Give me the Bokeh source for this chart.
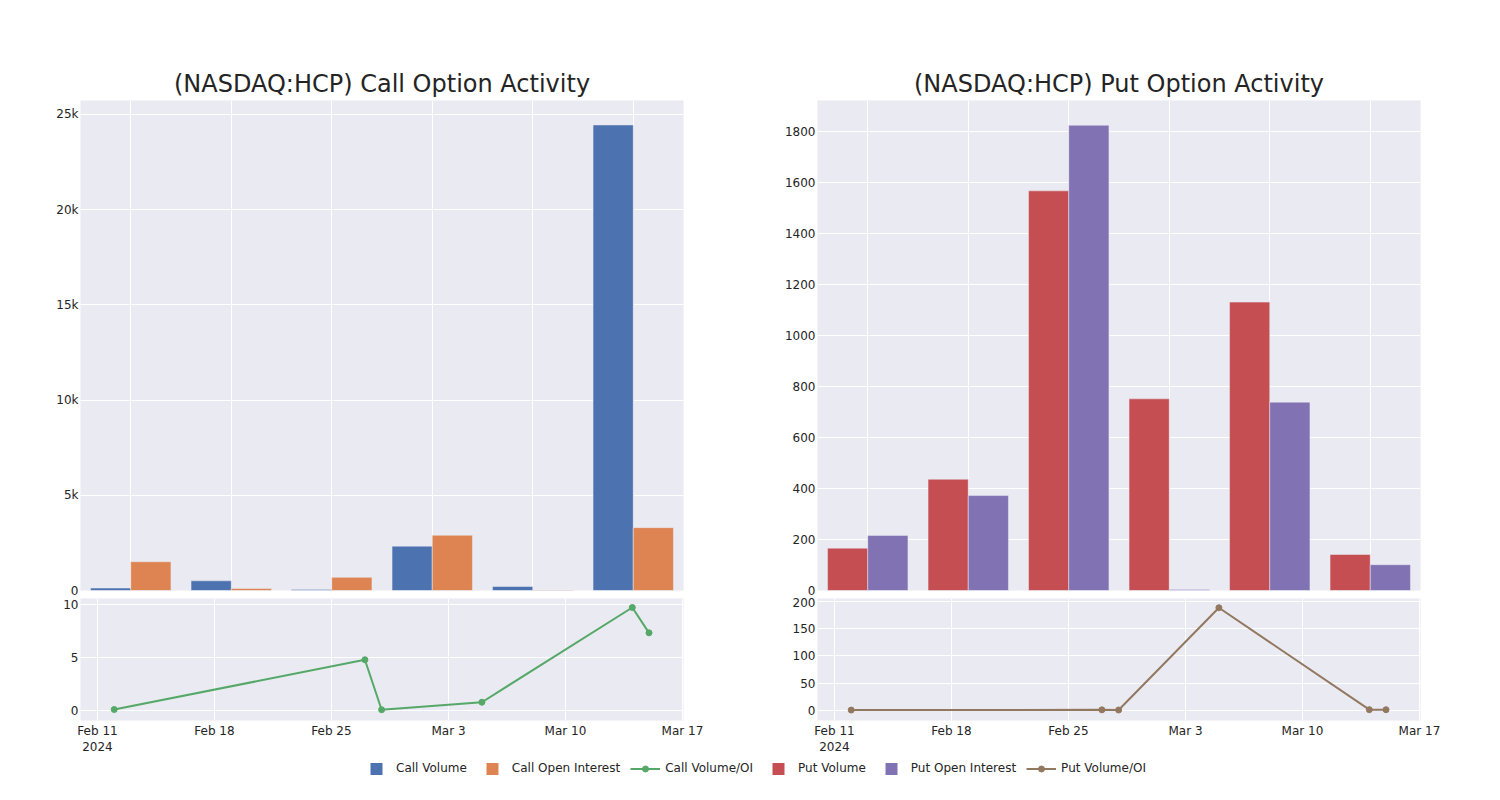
from datetime import datetime, timedelta

from bokeh.plotting import figure
from bokeh.models import (ColumnDataSource, FactorRange, Range1d, FixedTicker,
                          NumeralTickFormatter, CustomJSTickFormatter, Legend, LegendItem)
from bokeh.transform import dodge
from bokeh.layouts import column, row
from bokeh.embed import file_html
from bokeh.resources import INLINE

# ---------------- data ----------------
dates = ["2024-02-12", "2024-02-27", "2024-02-28", "2024-03-05", "2024-03-14", "2024-03-15"]

call_volume = [130, 510, 50, 2330, 210, 24450]
call_open_interest = [1510, 105, 690, 2900, 22, 3300]
call_vol_oi = [0.09, 4.8, 0.07, 0.78, 9.75, 7.35]

put_volume = [166, 436, 1566, 751, 1130, 141]
put_open_interest = [216, 372, 1823, 4, 738, 101]
put_vol_oi = [0.77, 1.17, 0.86, 188, 1.53, 1.40]

call_bar_ticks = [0, 5000, 10000, 15000, 20000, 25000]
put_bar_ticks = [0, 200, 400, 600, 800, 1000, 1200, 1400, 1600, 1800]
call_ratio_ticks = [0, 5, 10]
put_ratio_ticks = [0, 50, 100, 150, 200]
date_ticks = ["2024-02-11", "2024-02-18", "2024-02-25", "2024-03-03", "2024-03-10", "2024-03-17"]

titles = ["(NASDAQ:HCP) Call Option Activity", "(NASDAQ:HCP) Put Option Activity"]
legend_labels = ["Call Volume", "Call Open Interest", "Call Volume/OI",
                 "Put Volume", "Put Open Interest", "Put Volume/OI"]

# ---------------- style ----------------
FONT = "DejaVu Sans"
TXT = "#242424"
BG = "#EAEAF2"
C_BLUE, C_ORANGE, C_GREEN = "#4C72B0", "#DD8452", "#55A868"
C_RED, C_PURPLE, C_BROWN = "#C44E52", "#8172B3", "#937860"

FRAME_W = 603
BL, BR = 80, 54

EPOCH = datetime(1970, 1, 1)


def to_dt(s):
    return datetime.strptime(s, "%Y-%m-%d")


def to_ms(d):
    return (d - EPOCH).total_seconds() * 1000.0


x_start = to_dt(date_ticks[0]) - timedelta(days=1.017)
x_end = x_start + timedelta(days=36.08)


def style(p):
    p.background_fill_color = BG
    p.border_fill_color = "white"
    p.outline_line_color = None
    for ax in p.xaxis + p.yaxis:
        ax.axis_line_color = None
        ax.major_tick_line_color = None
        ax.minor_tick_line_color = None
        ax.major_tick_out = 0
        ax.major_tick_in = 0
        ax.major_label_text_font = FONT
        ax.major_label_text_font_size = "12px"
        ax.major_label_text_color = TXT
    p.yaxis.major_label_standoff = 2
    p.xaxis.major_label_standoff = 3
    for g in p.xgrid + p.ygrid:
        g.grid_line_color = "white"
        g.grid_line_width = 1


def bar_fig(title, vol, oi, c1, c2, ymax, ticks, fmt):
    src = ColumnDataSource(dict(date=dates, vol=vol, oi=oi))
    p = figure(x_range=FactorRange(*dates), y_range=Range1d(0, ymax),
               frame_width=FRAME_W, frame_height=490,
               min_border_left=BL, min_border_right=BR,
               min_border_top=100, min_border_bottom=7,
               output_backend="svg", toolbar_location=None, title=title)
    p.vbar(x=dodge("date", -0.2, range=p.x_range), top="vol", width=0.4, source=src,
           fill_color=c1, line_color=BG, line_width=0.5)
    p.vbar(x=dodge("date", 0.2, range=p.x_range), top="oi", width=0.4, source=src,
           fill_color=c2, line_color=BG, line_width=0.5)
    style(p)
    p.xaxis.visible = False
    p.yaxis.ticker = FixedTicker(ticks=ticks)
    if fmt:
        p.yaxis.formatter = NumeralTickFormatter(format=fmt)
    p.title.text_font = FONT
    p.title.text_font_size = "24px"
    p.title.text_font_style = "normal"
    p.title.text_color = TXT
    p.title.align = "center"
    p.title.standoff = 6
    return p


def line_fig(ratio, color, ylo, yhi, ticks):
    src = ColumnDataSource(dict(d=[to_dt(s) for s in dates], r=ratio))
    p = figure(x_axis_type="datetime", x_range=Range1d(x_start, x_end),
               y_range=Range1d(ylo, yhi),
               frame_width=FRAME_W, frame_height=122,
               min_border_left=BL, min_border_right=BR,
               min_border_top=1, min_border_bottom=36,
               output_backend="svg", toolbar_location=None, title=None)
    p.line(x="d", y="r", source=src, line_color=color, line_width=2)
    p.scatter(x="d", y="r", source=src, size=6, fill_color=color, line_color=color)
    style(p)
    p.yaxis.ticker = FixedTicker(ticks=ticks)
    p.xaxis.ticker = FixedTicker(ticks=[to_ms(to_dt(s)) for s in date_ticks])
    p.xaxis.formatter = CustomJSTickFormatter(code="""
        const d = new Date(tick);
        const m = ["Jan","Feb","Mar","Apr","May","Jun","Jul","Aug","Sep","Oct","Nov","Dec"][d.getUTCMonth()];
        let s = m + " " + d.getUTCDate();
        if (index === 0) { s = s + "\\n" + d.getUTCFullYear(); }
        return s;
    """)
    return p


call_bar = bar_fig(titles[0], call_volume, call_open_interest, C_BLUE, C_ORANGE,
                   25735, call_bar_ticks, "0a")
put_bar = bar_fig(titles[1], put_volume, put_open_interest, C_RED, C_PURPLE,
                  1920, put_bar_ticks, None)
call_line = line_fig(call_vol_oi, C_GREEN, -0.95, 10.6, call_ratio_ticks)
put_line = line_fig(put_vol_oi, C_BROWN, -18.3, 204.9, put_ratio_ticks)

# ---------------- legend ----------------
leg = figure(width=2 * (BL + FRAME_W + BR), height=30, x_range=Range1d(0, 1), y_range=Range1d(0, 1),
             x_axis_location=None, y_axis_location=None, min_border=0,
             output_backend="svg", toolbar_location=None, title=None)
leg.grid.visible = False
leg.outline_line_color = None
leg.background_fill_color = "white"
leg.border_fill_color = "white"

# legend-only renderers: one point placed outside the visible range
OFF = dict(x=[-10], y=[-10])


def sq(c):
    return [leg.scatter(x=OFF["x"], y=OFF["y"], marker="square", size=6, fill_color=c,
                        line_color=c, line_width=6, line_join="miter")]


def ln(c):
    a = leg.line(x=OFF["x"], y=OFF["y"], line_color=c, line_width=2)
    b = leg.scatter(x=OFF["x"], y=OFF["y"], marker="circle", size=6, fill_color=c, line_color=c)
    return [a, b]


glyphs = [sq(C_BLUE), sq(C_ORANGE), ln(C_GREEN), sq(C_RED), sq(C_PURPLE), ln(C_BROWN)]
items = [LegendItem(label=lab, renderers=g) for lab, g in zip(legend_labels, glyphs)]
legend = Legend(items=items, orientation="horizontal", location=(361, 9),
                glyph_width=30, glyph_height=15, label_standoff=5, spacing=10,
                padding=0, margin=0, border_line_color=None, background_fill_alpha=0,
                label_text_font=FONT, label_text_font_size="12px", label_text_color=TXT,
                label_height=20)
leg.add_layout(legend, "center")

layout = column(row(column(call_bar, call_line), column(put_bar, put_line)), leg)

open("out.html", "w").write(file_html(layout, INLINE))
